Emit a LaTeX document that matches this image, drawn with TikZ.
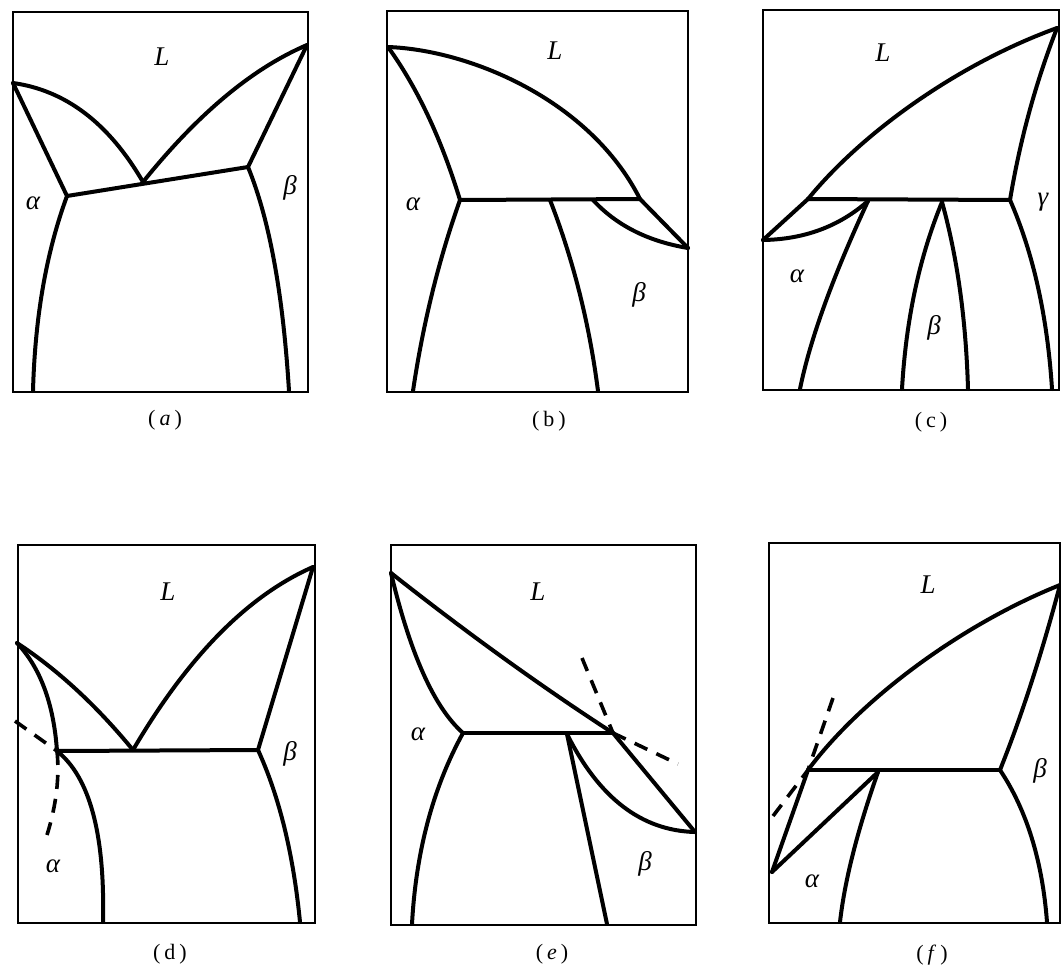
\documentclass[tikz,border=0pt]{standalone}
\usepackage{fontspec}
\setmainfont{Liberation Serif}
\usetikzlibrary{calc}
\begin{document}
\begin{tikzpicture}[x=1pt,y=-1pt,
  frame/.style={line width=1.8pt},
  phase/.style={line width=4pt, line join=round, line cap=round},
  meta/.style={line width=3.6pt, dash pattern=on 14pt off 10pt},
  lab/.style={font=\fontsize{27}{31}\selectfont\itshape, inner sep=0pt},
  capt/.style={font=\fontsize{22}{26}\selectfont, inner sep=0pt}]
\useasboundingbox (0,0) rectangle (1061,970);
\fill[white] (0,0) rectangle (1061,970);

% ---------------- (a)
\draw[frame] (13,12) rectangle (308,392);
\coordinate (aL) at (13,83);
\coordinate (aE) at (143,182);
\coordinate (aA) at (67,196);
\coordinate (aB) at (248,167);
\coordinate (aR) at (307,45);
\coordinate (aAb) at (33,391);
\coordinate (aBb) at (289,391);
\draw[phase] (aL) .. controls ($(aL)!.667!(92,94)$) and ($(aE)!.667!(92,94)$) .. (aE);
\draw[phase] (aL) -- (aA);
\draw[phase] (aA) -- (aB);
\draw[phase] (aE) .. controls ($(aE)!.667!(225,80)$) and ($(aR)!.667!(225,80)$) .. (aR);
\draw[phase] (aR) -- (aB);
\draw[phase] (aA) .. controls ($(aA)!.667!(36,280)$) and ($(aAb)!.667!(36,280)$) .. (aAb);
\draw[phase] (aB) .. controls ($(aB)!.667!(280,245)$) and ($(aBb)!.667!(280,245)$) .. (aBb);
\node[lab] (aLl) at (162,57) {L};
\node[lab] (aAl) at (33,203) {α};
\node[lab] (aBl) at (290,188) {β};
\node[capt] (acap) at (165,420) {(\kern4pt\textit{a}\kern4pt)};

% ---------------- (b)
\draw[frame] (387,11) rectangle (688,392);
\coordinate (bL) at (388,47);
\coordinate (bP) at (640,199);
\coordinate (bA) at (460,200);
\coordinate (bK) at (550,200);
\coordinate (bR) at (688,248);
\coordinate (bS) at (593,200);
\coordinate (bAb) at (413,391);
\coordinate (bBb) at (598,391);
\draw[phase] (bL) .. controls (470,50) and (590,100) .. (bP);
\draw[phase] (bL) .. controls ($(bL)!.667!(432,108)$) and ($(bA)!.667!(432,108)$) .. (bA);
\draw[phase] (bA) -- (bP);
\draw[phase] (bP) -- (bR);
\draw[phase] (bS) .. controls ($(bS)!.667!(628,238)$) and ($(bR)!.667!(628,238)$) .. (bR);
\draw[phase] (bA) .. controls ($(bA)!.667!(428,290)$) and ($(bAb)!.667!(428,290)$) .. (bAb);
\draw[phase] (bK) .. controls ($(bK)!.667!(585,290)$) and ($(bBb)!.667!(585,290)$) .. (bBb);
\node[lab] (bLl) at (555,51) {L};
\node[lab] (bAl) at (413,204) {α};
\node[lab] (bBl) at (639,295) {β};
\node[capt] (bcap) at (549,421) {(\kern4pt b\kern4pt)};

% ---------------- (c)
\draw[frame] (763,10) rectangle (1059,390);
\coordinate (cR) at (1057,28);
\coordinate (cQ) at (808,199);
\coordinate (cG) at (1010,200);
\coordinate (cA) at (763,240);
\coordinate (cS) at (868,201);
\coordinate (cK) at (942,202);
\coordinate (cBl) at (902,389);
\coordinate (cBr) at (968,389);
\coordinate (cAb) at (800,389);
\coordinate (cGb) at (1052,389);
\draw[phase] (cQ) .. controls (860,135) and (955,65) .. (cR);
\draw[phase] (cQ) -- (cG);
\draw[phase] (cA) -- (cQ);
\draw[phase] (cA) .. controls ($(cA)!.667!(825,239)$) and ($(cS)!.667!(825,239)$) .. (cS);
\draw[phase] (cS) .. controls ($(cS)!.667!(815,315)$) and ($(cAb)!.667!(815,315)$) .. (cAb);
\draw[phase] (cK) .. controls ($(cK)!.667!(908,285)$) and ($(cBl)!.667!(908,285)$) .. (cBl);
\draw[phase] (cK) .. controls ($(cK)!.667!(965,285)$) and ($(cBr)!.667!(965,285)$) .. (cBr);
\draw[phase] (cG) .. controls ($(cG)!.667!(1025,110)$) and ($(cR)!.667!(1025,110)$) .. (cR);
\draw[phase] (cG) .. controls ($(cG)!.667!(1045,280)$) and ($(cGb)!.667!(1045,280)$) .. (cGb);
\node[lab] (cLl) at (883,53) {L};
\node[lab] (cGl) at (1043,202) {γ};
\node[lab] (cAl) at (797,276) {α};
\node[lab] (cBl2) at (934,328) {β};
\node[capt] (ccap) at (931,422) {(\kern4pt c\kern4pt)};

% ---------------- (d)
\draw[frame] (18,545) rectangle (315,923);
\coordinate (dL) at (17,643);
\coordinate (dE) at (133,750);
\coordinate (dA) at (57,751);
\coordinate (dB) at (258,750);
\coordinate (dR) at (313,567);
\coordinate (dAb) at (103,922);
\coordinate (dBb) at (300,922);
\coordinate (dM1) at (15,721);
\coordinate (dM2) at (47,835);
\draw[phase] (dL) .. controls ($(dL)!.667!(78,683)$) and ($(dE)!.667!(78,683)$) .. (dE);
\draw[phase] (dL) .. controls ($(dL)!.667!(52,680)$) and ($(dA)!.667!(52,680)$) .. (dA);
\draw[phase] (dA) -- (dB);
\draw[phase] (dE) .. controls ($(dE)!.667!(215,610)$) and ($(dR)!.667!(215,610)$) .. (dR);
\draw[phase] (dR) -- (dB);
\draw[phase] (dA) .. controls ($(dA)!.667!(106,790)$) and ($(dAb)!.667!(106,790)$) .. (dAb);
\draw[phase] (dB) .. controls ($(dB)!.667!(290,820)$) and ($(dBb)!.667!(290,820)$) .. (dBb);
\draw[meta] (dM1) -- (dA);
\draw[meta] (dA) .. controls ($(dA)!.667!(61,790)$) and ($(dM2)!.667!(61,790)$) .. (dM2);
\node[lab] (dLl) at (168,592) {L};
\node[lab] (dBl) at (290,754) {β};
\node[lab] (dAl) at (53,866) {α};
\node[capt] (dcap) at (170,954) {(\kern4pt d\kern4pt)};

% ---------------- (e)
\draw[frame] (391,545) rectangle (696,925);
\coordinate (eL) at (391,573);
\coordinate (eX) at (613,733);
\coordinate (eA) at (463,733);
\coordinate (eS) at (567,734);
\coordinate (eR) at (695,832);
\coordinate (eAb) at (412,924);
\coordinate (eBb) at (607,924);
\coordinate (eM1) at (582,658);
\coordinate (eM2) at (678,764);
\draw[phase] (eL) .. controls ($(eL)!.667!(505,663)$) and ($(eX)!.667!(505,663)$) .. (eX);
\draw[phase] (eX) -- (eR);
\draw[phase] (eA) -- (eX);
\draw[phase] (eL) .. controls ($(eL)!.667!(420,695)$) and ($(eA)!.667!(420,695)$) .. (eA);
\draw[phase] (eA) .. controls ($(eA)!.667!(418,815)$) and ($(eAb)!.667!(418,815)$) .. (eAb);
\draw[phase] (eS) -- (eBb);
\draw[phase] (eS) .. controls ($(eS)!.667!(615,830)$) and ($(eR)!.667!(615,830)$) .. (eR);
\draw[meta] (eM1) -- (eX);
\draw[meta] (eX) -- (eM2);
\node[lab] (eLl) at (538,592) {L};
\node[lab] (eAl) at (418,734) {α};
\node[lab] (eBl) at (645,864) {β};
\node[capt] (ecap) at (552,954) {(\kern4pt\textit{e}\kern4pt)};

% ---------------- (f)
\draw[frame] (769,543) rectangle (1060,923);
\coordinate (fR) at (1060,585);
\coordinate (fQ) at (808,770);
\coordinate (fB) at (1000,770);
\coordinate (fA) at (772,872);
\coordinate (fS) at (878,772);
\coordinate (fAb) at (840,922);
\coordinate (fBb) at (1047,922);
\coordinate (fM1) at (833,698);
\coordinate (fM2) at (770,820);
\draw[phase] (fQ) .. controls (860,700) and (960,625) .. (fR);
\draw[phase] (fQ) -- (fB);
\draw[phase] (fA) -- (fQ);
\draw[phase] (fA) -- (fS);
\draw[phase] (fS) .. controls ($(fS)!.667!(847,860)$) and ($(fAb)!.667!(847,860)$) .. (fAb);
\draw[phase] (fB) .. controls ($(fB)!.667!(1032,690)$) and ($(fR)!.667!(1032,690)$) .. (fR);
\draw[phase] (fB) .. controls ($(fB)!.667!(1040,830)$) and ($(fBb)!.667!(1040,830)$) .. (fBb);
\draw[meta] (fM1) -- (fQ) -- (fM2);
\node[lab] (fLl) at (928,585) {L};
\node[lab] (fBl) at (1040,771) {β};
\node[lab] (fAl) at (812,881) {α};
\node[capt] (fcap) at (932,955) {(\kern4pt\textit{f}\kern4pt)};
\end{tikzpicture}
\end{document}
